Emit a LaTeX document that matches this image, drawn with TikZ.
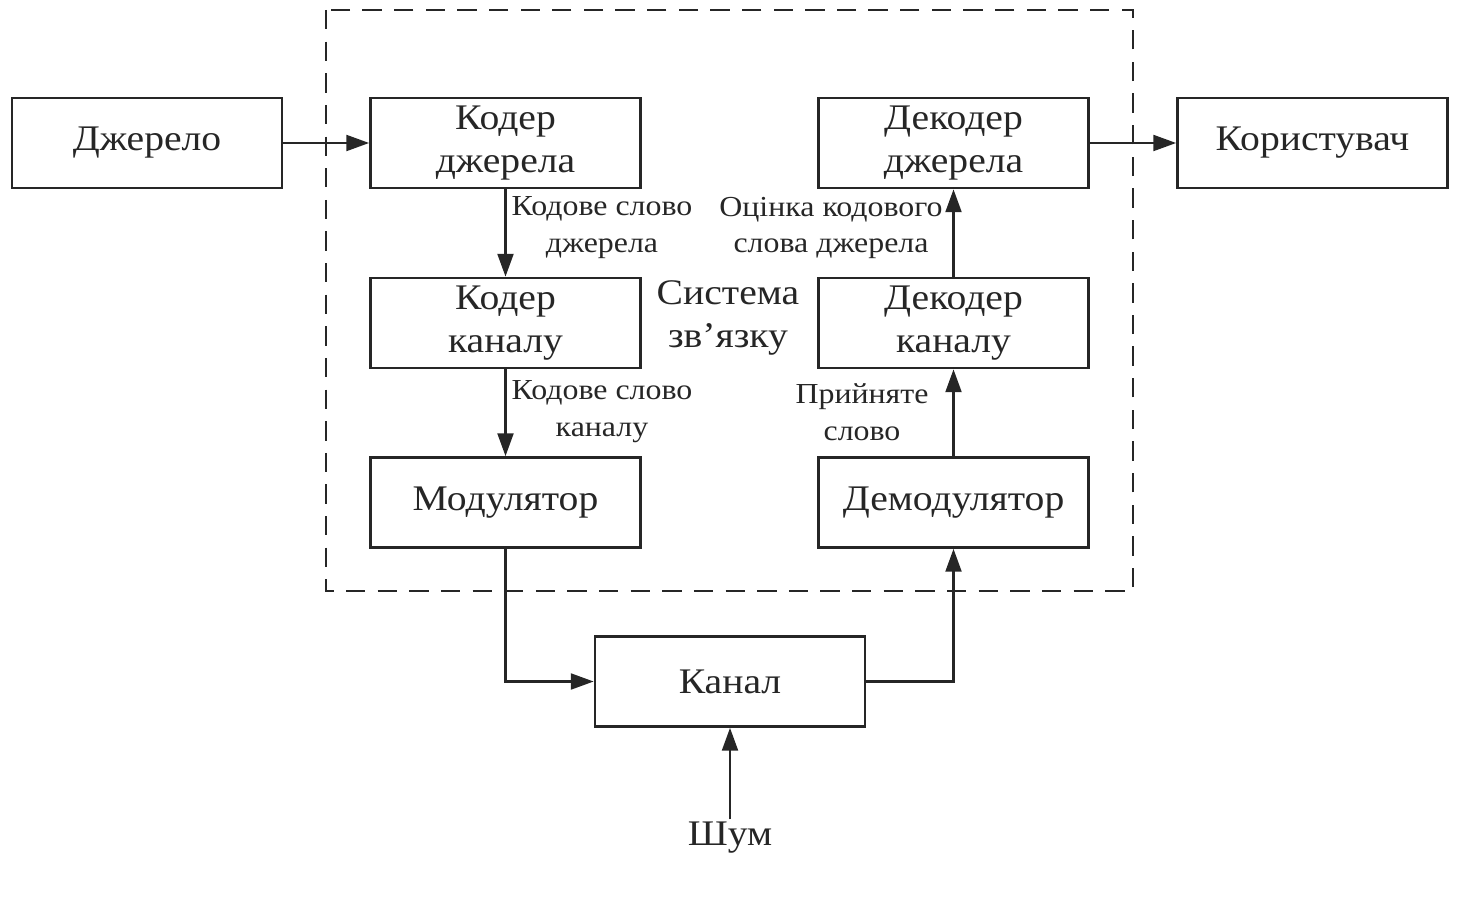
\documentclass[tikz,border=0pt]{standalone}
\usepackage{fontspec}
\setmainfont[FakeStretch=1.1]{Liberation Serif}
\usetikzlibrary{arrows.meta}

\begin{document}
\begin{tikzpicture}[>={Triangle[length=13pt,width=9pt]}, line width=1.5pt, color=black!85]
	\useasboundingbox (0,0) rectangle (29.6,-18.02);
	\draw[dash pattern=on 11pt off 7pt] (6.52,-0.2) rectangle (22.66,-11.82);
	\begin{scope}[every node/.style={draw,minimum width=5.4cm,minimum height=1.8cm,align=center,font=\fontsize{20.5}{24.5}\selectfont}]
		\node (src) at(2.94,-2.86) {Джерело};
		\node (srcenc) at(10.11,-2.86) {Кодер\\джерела};
		\node (srcdec) at(19.07,-2.86) {Декодер\\джерела};
		\node (user) at(26.25,-2.86) {Користувач};
		\node (chenc) at(10.11,-6.46) {Кодер\\каналу};
		\node (chdec) at(19.07,-6.46) {Декодер\\каналу};
		\node (mod) at(10.11,-10.05) {Модулятор};
		\node (demod) at(19.07,-10.05) {Демодулятор};
		\node (chan) at(14.6,-13.63) {Канал};
	\end{scope}
	\begin{scope}[every node/.style={align=center,font=\fontsize{16.5}{21}\selectfont}]
		\node (cws) at(12.04,-4.56) {Кодове слово\\джерела};
		\node (est) at(16.62,-4.56) {Оцінка кодового\\слова джерела};
		\node (cwc) at(12.04,-8.24) {Кодове слово\\каналу};
		\node (rcv) at(17.24,-8.24) {Прийняте\\слово};
		\node (sys) at(14.56,-6.36) [font=\fontsize{20.5}{24.5}\selectfont] {Система\\зв’язку};
		\node (noise) at(14.6,-16.76) [font=\fontsize{20.5}{24.5}\selectfont,inner sep=1pt] {Шум};
	\end{scope}
	\begin{scope}[->]
		\path (src) edge (srcenc);
		\path (srcenc) edge (chenc);
		\path (chenc) edge (mod);
		\draw (mod.south) |- (chan.west);
		\draw (chan.east) -| (demod.south);
		\path (demod) edge (chdec);
		\path (chdec) edge (srcdec);
		\path (srcdec) edge (user);
		\path (noise) edge (chan);
	\end{scope}
\end{tikzpicture}
\end{document}
